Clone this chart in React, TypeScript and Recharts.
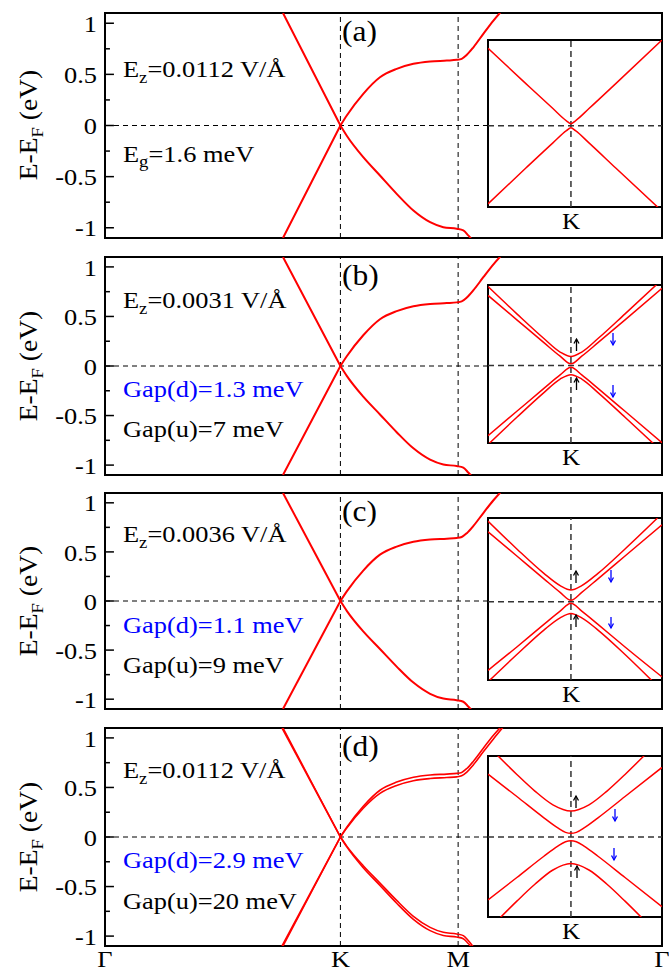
import React from 'react';
import { LineChart, Line, XAxis, YAxis, ReferenceLine, ReferenceArea } from 'recharts';

// k-path Γ-K-M-Γ, |ΓK| = 1
const PATH_TICKS = [0, 1, 1.5, 2.366];
const PATH_LABELS = ['Γ', 'K', 'M', 'Γ'];
const E_TICKS = [-1, -0.5, 0, 0.5, 1];
const E_MINOR = [-0.75, -0.25, 0.25, 0.75];

// main bands (k, E in eV)
const condLeft = [[0.756, 1.1], [0.878, 0.55], [1.0, 0]];
const valLeft = [[0.756, -1.1], [0.878, -0.55], [1.0, 0]];
const condRight = [[1.0, 0], [1.027, 0.098], [1.097, 0.31], [1.168, 0.472], [1.239, 0.554], [1.31, 0.603], [1.381, 0.626], [1.452, 0.635], [1.494, 0.642], [1.515, 0.652], [1.537, 0.691], [1.565, 0.765], [1.607, 0.896], [1.65, 1.026], [1.685, 1.12]];
const valRight = [[1.0, 0], [1.027, -0.1], [1.097, -0.31], [1.168, -0.489], [1.239, -0.668], [1.31, -0.831], [1.381, -0.945], [1.437, -0.994], [1.494, -1.01], [1.522, -1.026], [1.543, -1.075], [1.56, -1.12]];
// second spin channel, visible only in (d)
const condLeftD = [[0.752, 1.1], [0.876, 0.55], [1.0, 0]];
const valLeftD = [[0.752, -1.1], [0.876, -0.55], [1.0, 0]];
const condRightD = [[1.0, 0], [1.027, 0.09], [1.097, 0.29], [1.168, 0.44], [1.239, 0.52], [1.31, 0.568], [1.381, 0.59], [1.452, 0.6], [1.494, 0.607], [1.515, 0.618], [1.537, 0.655], [1.565, 0.73], [1.607, 0.86], [1.65, 0.99], [1.695, 1.12]];
const valRightD = [[1.0, 0], [1.027, -0.092], [1.097, -0.29], [1.168, -0.465], [1.239, -0.64], [1.31, -0.8], [1.381, -0.912], [1.437, -0.962], [1.494, -0.978], [1.522, -0.995], [1.543, -1.045], [1.568, -1.12]];

// insets near K (q arb. units, E in meV)
const insetA = [
  [[-0.92, 29.8], [-0.5, 16.2], [-0.2, 6.6], [-0.05, 1.9], [0, 0.8], [0.05, 1.9], [0.2, 6.6], [0.5, 16.3], [1.01, 33.0]],
  [[-0.92, -30.1], [-0.5, -16.3], [-0.2, -6.6], [-0.05, -1.9], [0, -0.8], [0.05, -1.9], [0.2, -6.6], [0.5, -16.4], [0.97, -31.6]],
];
const insetB = [
  [[-0.92, 30.4], [-0.6, 19.9], [-0.3, 10.4], [-0.12, 5.2], [0, 3.5], [0.12, 5.2], [0.3, 10.4], [0.6, 19.9], [0.97, 31.8]],
  [[-0.92, 27.0], [-0.6, 17.6], [-0.3, 8.8], [-0.12, 3.6], [0, 0.65], [0.12, 3.6], [0.3, 8.8], [0.6, 17.6], [1.01, 29.7]],
  [[-0.92, -27.0], [-0.6, -17.6], [-0.3, -8.8], [-0.12, -3.6], [0, -0.65], [0.12, -3.6], [0.3, -8.8], [0.6, -17.6], [1.01, -29.7]],
  [[-0.92, -30.4], [-0.6, -19.9], [-0.3, -10.4], [-0.12, -5.2], [0, -3.5], [0.12, -5.2], [0.3, -10.4], [0.6, -19.9], [0.97, -31.8]],
];
const insetC = [
  [[-0.92, 31.0], [-0.6, 20.3], [-0.3, 10.9], [-0.12, 6.2], [0, 4.5], [0.12, 6.2], [0.3, 10.9], [0.6, 20.3], [0.96, 32.2]],
  [[-0.92, 26.9], [-0.6, 17.6], [-0.3, 8.8], [-0.12, 3.6], [0, 0.55], [0.12, 3.6], [0.3, 8.8], [0.6, 17.6], [1.01, 29.6]],
  [[-0.92, -26.4], [-0.6, -17.4], [-0.3, -8.7], [-0.12, -3.6], [0, -0.55], [0.12, -3.6], [0.3, -8.7], [0.6, -17.4], [1.01, -28.9]],
  [[-0.92, -30.8], [-0.6, -20.3], [-0.3, -10.9], [-0.12, -6.2], [0, -4.5], [0.12, -6.2], [0.3, -10.9], [0.6, -20.3], [0.9, -30.4]],
];
const insetD = [
  [[-0.86, 33.0], [-0.6, 24.1], [-0.4, 17.7], [-0.2, 12.4], [0, 10.0], [0.2, 12.4], [0.4, 17.7], [0.6, 24.1], [0.86, 33.0]],
  [[-0.92, 24.2], [-0.6, 15.6], [-0.3, 7.4], [-0.15, 3.6], [-0.06, 1.8], [0, 1.45], [0.06, 1.8], [0.15, 3.6], [0.3, 7.4], [0.6, 15.6], [1.01, 26.8]],
  [[-0.92, -24.2], [-0.6, -15.6], [-0.3, -7.4], [-0.15, -3.6], [-0.06, -1.8], [0, -1.45], [0.06, -1.8], [0.15, -3.6], [0.3, -7.4], [0.6, -15.6], [1.01, -26.8]],
  [[-0.84, -33.0], [-0.6, -24.7], [-0.4, -18.2], [-0.2, -12.7], [0, -10.2], [0.2, -12.7], [0.4, -18.2], [0.6, -24.7], [0.84, -33.0]],
];

// annotation texts
const FIELDS = ['0.0112', '0.0031', '0.0036', '0.0112'];
const GAP_D = ['', '1.3', '1.1', '2.9'];
const GAP_U = ['', '7', '9', '20'];
const GAP_A = '1.6';

const pts = (a: number[][]) => a.map(([k, e]) => ({ k, e }));

const FONT = '"Liberation Serif", "Times New Roman", serif';
const RED = '#ff0000';
const BLUE = '#0000ff';

// layout (page px)
const PAD = 12;
const PANELS = [
  { id: 'a', top: 13, h: 225, zero: 125, ez: 77, gd: 0, gu: 0 },
  { id: 'b', top: 257, h: 218, zero: 366, ez: 308, gd: 397, gu: 437 },
  { id: 'c', top: 493, h: 216, zero: 601, ez: 542, gd: 633, gu: 673 },
  { id: 'd', top: 728, h: 218, zero: 837, ez: 778, gd: 868, gu: 909 },
];
const INSETS = [
  { top: 40, h: 167, dom: [-31.3, 33.0], bands: insetA },
  { top: 285, h: 158, dom: [-29.8, 31.0], bands: insetB },
  { top: 518, h: 162, dom: [-30.1, 32.2], bands: insetC },
  { top: 756, h: 161, dom: [-30.8, 31.2], bands: insetD },
];
// arrows: [x, top, bottom, up?]
const ARROWS = [
  [],
  [[576.5, 339, 351, 1], [576.5, 378, 390, 1], [613, 333, 345, 0], [613, 385, 397, 0]],
  [[576, 571, 583, 1], [576, 615, 627, 1], [611, 570, 582, 0], [611, 617, 628, 0]],
  [[576, 796, 808, 1], [577, 866, 878, 1], [615, 809, 821, 0], [614, 848, 860, 0]],
];

const SX = 'scale(1.1,1)';

function ETick(props: any) {
  const { x, y, payload } = props;
  return (
    <text transform={`translate(${x},${y}) ${SX}`} dy="0.36em" textAnchor="end" fontFamily={FONT} fontSize={24} fill="#000">
      {String(payload.value)}
    </text>
  );
}

function PathTick(props: any) {
  const { x, y, index } = props;
  return (
    <text transform={`translate(${x},${y + 21}) ${SX}`} textAnchor="middle" fontFamily={FONT} fontSize={24} fill="#000">
      {PATH_LABELS[index]}
    </text>
  );
}

function BandPanel({ p, last }: { p: any; last: boolean }) {
  const mb = last ? 0 : PAD;
  const xh = last ? 27 : 0;
  const bands = [condLeft, valLeft, condRight, valRight];
  const extra = last ? [condLeftD, valLeftD, condRightD, valRightD] : [];
  return (
    <div style={{ position: 'absolute', left: 0, top: p.top - PAD }}>
      <LineChart width={669} height={p.h + PAD + mb + xh} margin={{ top: PAD, right: 7, bottom: mb, left: 0 }}>
        <XAxis type="number" dataKey="k" domain={[0, 2.366]} ticks={PATH_TICKS} interval={0}
          hide={!last} height={xh} axisLine={false} tickLine={false} tickSize={0} tickMargin={0}
          tick={(t: any) => <PathTick {...t} />} allowDataOverflow />
        <YAxis type="number" domain={[-1.1, 1.1]} ticks={E_TICKS} interval={0} width={105}
          axisLine={false} tickLine={false} tickSize={0} tickMargin={8}
          tick={(t: any) => <ETick {...t} />} allowDataOverflow />
        <ReferenceLine x={1} stroke="#000" strokeWidth={1} strokeDasharray="5 4" />
        <ReferenceLine x={1.5} stroke="#000" strokeWidth={1} strokeDasharray="5 4" />
        <ReferenceLine y={0} stroke="#000" strokeWidth={1} strokeDasharray="5 4" />
        {E_TICKS.map((v) => (
          <ReferenceLine key={`mj${v}`} segment={[{ x: 0, y: v }, { x: 0.038, y: v }]} stroke="#000" strokeWidth={1.5} />
        ))}
        {E_MINOR.map((v) => (
          <ReferenceLine key={`mn${v}`} segment={[{ x: 0, y: v }, { x: 0.021, y: v }]} stroke="#000" strokeWidth={1.5} />
        ))}
        {bands.map((b, i) => (
          <Line key={`b${i}`} data={pts(b)} dataKey="e" type={i < 2 ? 'linear' : 'monotone'} stroke={RED}
            strokeWidth={last ? 1.6 : 2} dot={false} isAnimationActive={false} />
        ))}
        {extra.map((b, i) => (
          <Line key={`x${i}`} data={pts(b)} dataKey="e" type={i < 2 ? 'linear' : 'monotone'} stroke={RED}
            strokeWidth={1.6} dot={false} isAnimationActive={false} />
        ))}
        <ReferenceArea x1={0} x2={2.366} y1={-1.1} y2={1.1} fill="none" stroke="#000" strokeWidth={2} />
      </LineChart>
    </div>
  );
}

function Inset({ ins }: { ins: any }) {
  return (
    <div style={{ position: 'absolute', left: 487, top: ins.top - 1, background: '#fff' }}>
      <LineChart width={176} height={ins.h + 2} margin={{ top: 1, right: 1, bottom: 1, left: 1 }}>
        <XAxis type="number" dataKey="k" domain={[-0.92, 1.01]} hide allowDataOverflow />
        <YAxis type="number" domain={ins.dom} hide allowDataOverflow />
        <ReferenceLine x={0} stroke="#333" strokeWidth={1.5} strokeDasharray="6 4" />
        <ReferenceLine y={0} stroke="#333" strokeWidth={1.5} strokeDasharray="6 4" />
        {ins.bands.map((b: number[][], i: number) => (
          <Line key={i} data={pts(b)} dataKey="e" type="monotone" stroke={RED} strokeWidth={1.5}
            dot={false} isAnimationActive={false} />
        ))}
        <ReferenceArea x1={-0.92} x2={1.01} y1={ins.dom[0]} y2={ins.dom[1]} fill="none" stroke="#000" strokeWidth={2} />
      </LineChart>
    </div>
  );
}

function Arrow({ a, color }: { a: number[]; color: string }) {
  const [x, y1, y2, up] = a;
  const tip = up ? y1 : y2;
  const d = up ? 1 : -1;
  return (
    <g stroke={color} strokeWidth={1.3} fill="none">
      <line x1={x} y1={y1} x2={x} y2={y2} />
      <polyline points={`${x - 2.5},${tip + d * 4.5} ${x},${tip} ${x + 2.5},${tip + d * 4.5}`} />
    </g>
  );
}

function Annotations() {
  return (
    <svg width={669} height={973} style={{ position: 'absolute', left: 0, top: 0, pointerEvents: 'none' }}
      fontFamily={FONT} fill="#000">
      {PANELS.map((p, i) => (
        <g key={p.id}>
          <text transform={`translate(37,${p.zero}) rotate(-90) ${SX}`} textAnchor="middle" fontSize={25}>
            E-E<tspan fontSize={17} dy={6}>F</tspan><tspan dy={-6}> (eV)</tspan>
          </text>
          <text transform={`translate(342,${p.top + 28}) scale(1.05,1)`} fontSize={30}>({p.id})</text>
          <text transform={`translate(123,${p.ez}) ${SX}`} fontSize={24}>
            E<tspan fontSize={17} dy={6}>z</tspan><tspan dy={-6}>={FIELDS[i]} V/Å</tspan>
          </text>
          {i === 0 ? (
            <text transform={`translate(123,162) ${SX}`} fontSize={24}>
              E<tspan fontSize={17} dy={5}>g</tspan><tspan dy={-5}>={GAP_A} meV</tspan>
            </text>
          ) : (
            <>
              <text transform={`translate(123,${p.gd}) ${SX}`} fontSize={24} fill={BLUE}>Gap(d)={GAP_D[i]} meV</text>
              <text transform={`translate(123,${p.gu}) ${SX}`} fontSize={24}>Gap(u)={GAP_U[i]} meV</text>
            </>
          )}
          <text transform={`translate(571,${INSETS[i].top + INSETS[i].h + 22}) scale(1.05,1)`} textAnchor="middle" fontSize={24}>K</text>
          {ARROWS[i].map((a, j) => (
            <Arrow key={j} a={a} color={a[3] ? '#000' : BLUE} />
          ))}
        </g>
      ))}
    </svg>
  );
}

export default function App() {
  return (
    <div style={{ position: 'absolute', left: 0, top: 0, width: 669, height: 973, background: '#fff', overflow: 'hidden' }}>
      {PANELS.map((p, i) => (
        <BandPanel key={p.id} p={p} last={i === PANELS.length - 1} />
      ))}
      {INSETS.map((ins, i) => (
        <Inset key={i} ins={ins} />
      ))}
      <Annotations />
    </div>
  );
}
